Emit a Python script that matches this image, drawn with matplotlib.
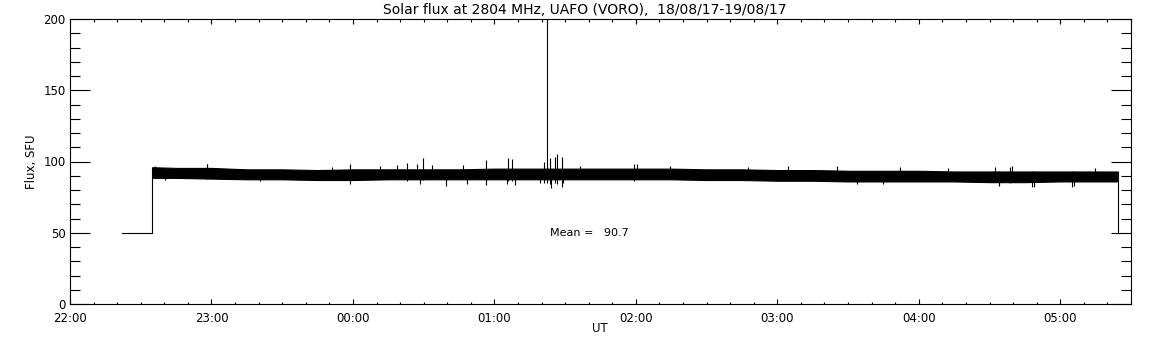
import matplotlib.pyplot as plt
from matplotlib.ticker import MultipleLocator

# time axis in minutes after 22:00 UT
hour_ticks = [0, 60, 120, 180, 240, 300, 360, 420]
hour_labels = ['22:00', '23:00', '00:00', '01:00', '02:00', '03:00', '04:00', '05:00']

# envelope of the noisy flux record (SFU), every 15 min
env_min = [35, 45, 60, 75, 90, 105, 120, 135, 150, 165, 180, 195, 210, 225, 240,
           255, 270, 285, 300, 315, 330, 345, 360, 375, 390, 405, 420, 435, 444]
env_hi = [96.0, 95.5, 95.5, 94.5, 94.5, 94.0, 94.5, 94.5, 94.5, 94.5, 95.0, 95.0, 95.0, 95.0, 95.0,
          95.0, 94.5, 94.5, 94.0, 94.0, 93.5, 93.5, 93.5, 93.0, 93.0, 93.0, 93.0, 93.0, 93.0]
env_lo = [88.5, 88.5, 88.0, 87.5, 87.5, 87.0, 87.0, 87.5, 87.5, 87.5, 87.5, 87.5, 87.5, 87.5, 87.5,
          87.5, 87.0, 87.0, 86.5, 86.5, 86.0, 86.0, 86.0, 86.0, 85.5, 85.5, 86.0, 86.0, 86.0]

# calibration level before/after the record
calib_min = [22, 34.8]
calib_flux = [50, 50]
end_min = 444.4
end_flux = 50

# bursts and single spikes
spike_min = [58, 118.7, 143, 149.7, 159.4, 176.4, 185.7, 187.4, 188.7,
             201, 202.3, 203.5, 204, 205.7, 206.5, 208.6, 239, 398.6, 394, 408, 425]
spike_lo = [88, 87, 86, 87, 83, 83.5, 86, 86, 83.5,
            85, 85, 84, 81.4, 85, 84, 82, 86, 85, 83, 82, 82]
spike_hi = [98, 98, 99, 102.7, 94, 101, 102.5, 101.7, 94,
            100, 215, 102.6, 94, 103, 105, 103.4, 98, 96, 93, 93, 93]

# small excursions on the edges of the noise band
fringe_up_min = [36, 58.1, 111.1, 131.4, 138.7, 147.1, 153.5, 166.6, 216.3, 240.4,
                 254.4, 287.5, 304.5, 325.2, 352, 372.3, 392.2, 399.4, 434.6]
fringe_up = [97, 98, 96, 97, 97.5, 98, 97.5, 97.5, 97, 98,
             97, 96, 96.5, 96.5, 96, 95.5, 96, 96.5, 95.5]
fringe_dn_min = [40.3, 80.6, 118.7, 148.4, 168.3, 185.3, 199.3, 209, 333.7, 344.7,
                 393.9, 408.8, 425.7]
fringe_dn = [87, 86, 84.5, 84.5, 84.5, 84.5, 85, 85, 84, 84,
             83.5, 82, 82.5]

mean_flux = 90.7

fig = plt.figure(figsize=(11.52, 3.45), dpi=100)
ax = fig.add_axes([70 / 1152, 1 - 304 / 345, 1061 / 1152, 285 / 345])

ax.plot(calib_min, calib_flux, color='k', lw=0.8)
ax.vlines(calib_min[-1], calib_flux[-1], env_hi[0], color='k', lw=0.8)
ax.fill_between(env_min, env_lo, env_hi, color='k', lw=0.8)
ax.vlines(spike_min, spike_lo, spike_hi, color='k', lw=0.8)
ax.vlines(fringe_up_min, 90, fringe_up, color='k', lw=0.8)
ax.vlines(fringe_dn_min, fringe_dn, 90, color='k', lw=0.8)
ax.vlines(end_min, end_flux, env_hi[-1], color='k', lw=0.8)

ax.text(203.5, 50, 'Mean =   %.1f' % mean_flux, fontsize=8, va='center', ha='left')

ax.set_xlim(0, 450)
ax.set_ylim(0, 200)
ax.set_xticks(hour_ticks)
ax.set_xticklabels(hour_labels)
ax.xaxis.set_minor_locator(MultipleLocator(10))
ax.yaxis.set_major_locator(MultipleLocator(50))
ax.yaxis.set_minor_locator(MultipleLocator(10))

ax.tick_params(which='both', direction='in', top=True, right=True, width=0.8, labelsize=8.5)
ax.tick_params(axis='x', which='major', length=3.6, pad=6)
ax.tick_params(axis='x', which='minor', length=1.8)
ax.tick_params(axis='y', which='major', length=14.4, pad=3)
ax.tick_params(axis='y', which='minor', length=7.2)
for s in ax.spines.values():
    s.set_linewidth(0.8)

fig.text(585 / 1152, 1 - 10 / 345, 'Solar flux at 2804 MHz, UAFO (VORO),  18/08/17-19/08/17',
         ha='center', va='center', fontsize=10)
fig.text(31 / 1152, 1 - 161.5 / 345, 'Flux, SFU', rotation=90, ha='center', va='center', fontsize=8.5)
fig.text(600 / 1152, 1 - 329 / 345, 'UT', ha='center', va='center', fontsize=8.5)

fig.savefig('out.png', dpi=100)
